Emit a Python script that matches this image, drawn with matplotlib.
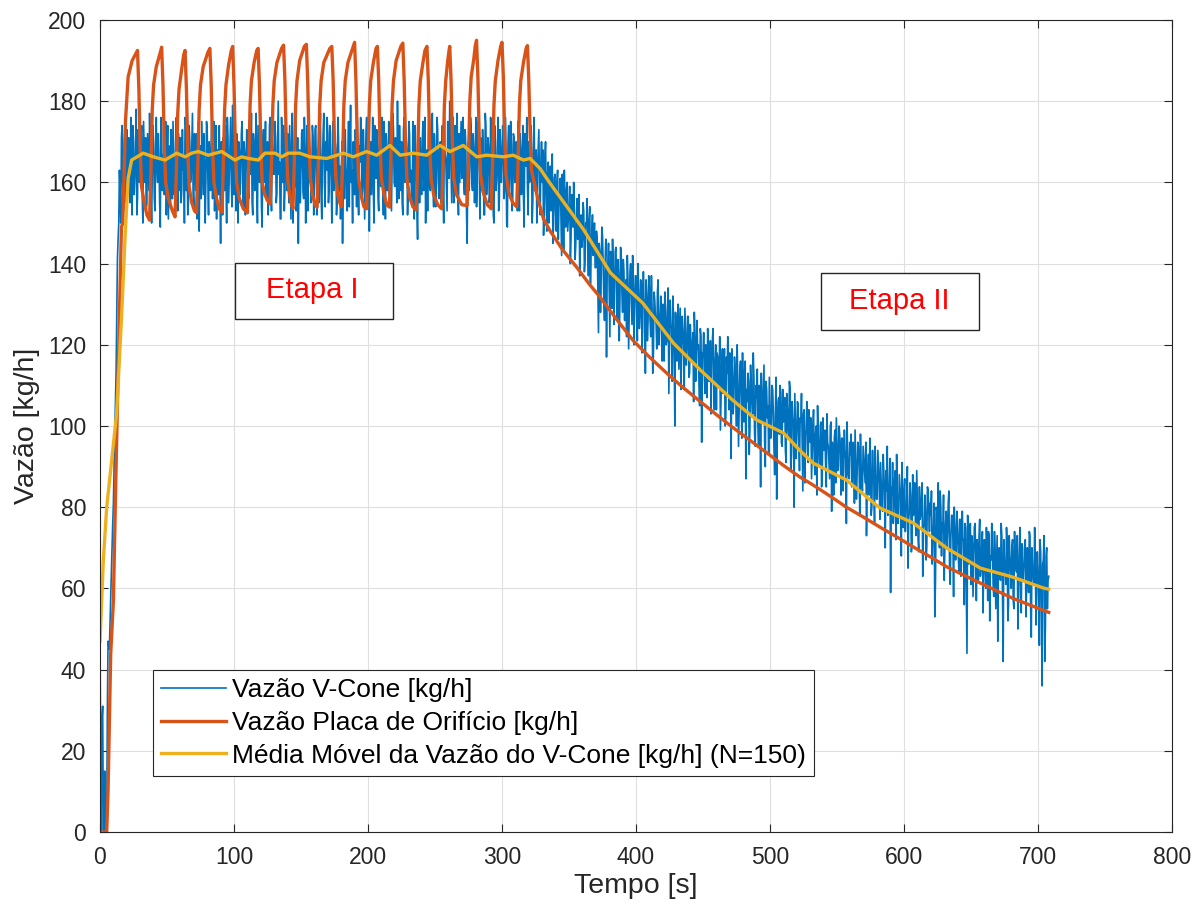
"""Vazao V-Cone vs placa de orificio, com media movel (N=150)."""
import matplotlib
matplotlib.use("Agg")
import matplotlib.pyplot as plt
import numpy as np

plt.rcParams["font.family"] = ["Liberation Sans", "DejaVu Sans"]

BLUE = "#0072BD"
ORANGE = "#D95319"
YELLOW = "#EDB120"
INK = "#262626"

# V-Cone flow read on whole seconds (t = 0 .. 708 s)
vcone_flow_a = [
    46, 0, 31, 0, 3, 0, 47, 45, 58, 70,
    81, 98, 113, 141, 150, 158, 171, 160, 168, 155,
    173, 158, 166, 176, 152, 170, 161, 178, 156, 169,
    162, 174, 150, 167, 171, 155, 165, 177, 158, 163,
    170, 153, 176, 160, 166, 149, 172, 162, 157, 175,
    164, 151, 169, 173, 156, 166, 160, 176, 153, 168,
    171, 158, 163, 150, 174, 165, 155, 170, 161, 177,
    154, 167, 172, 159, 148, 169, 175, 157, 164, 160,
    173, 152, 166, 170, 156, 175, 162, 151, 168, 174,
    145, 165, 171, 158, 163, 176, 155, 169, 160, 179,
    157, 166, 172, 150, 168, 161, 175, 154, 167, 163,
    171, 156, 162, 177, 152, 169, 165, 158, 174, 160,
    167, 149, 173, 163, 156, 170, 160, 176, 153, 168,
    162, 171, 157, 180, 165, 151, 169, 174, 158, 166,
    172, 155, 163, 170, 150, 167, 175, 159, 145, 168,
    164, 173, 156, 169, 161, 153, 176, 166, 158, 171,
    160, 174, 152, 167, 170, 157, 165, 177, 154, 163,
    172, 159, 166, 150, 175, 162, 168, 156, 171, 164,
    158, 145, 169, 173, 160, 166, 154, 179, 163, 170,
    157, 168, 175, 152, 165, 171, 159, 167, 162, 176,
    155, 148, 170, 164, 158, 174, 161, 169, 153, 172,
    166, 160, 175, 151, 168, 163, 157, 171, 165, 173,
    159, 167, 180, 156, 164, 170, 152, 176, 161, 168,
    158, 172, 163, 155, 169, 174, 160, 146, 166, 171,
    157, 175, 164, 150, 168, 172, 159, 165, 177, 154,
    167, 161, 173, 156, 170, 163, 158, 176, 166, 153,
    171, 180, 162, 168, 155, 174, 165, 159, 172, 167,
    161, 176, 157, 169, 145, 170, 164, 173, 158, 168,
    163, 154, 175, 166, 171, 159, 167, 152, 174, 162,
    169, 157, 173, 164, 150, 170, 161, 176, 155, 168,
    165, 172, 158, 167, 149, 174, 162, 169, 156, 171,
    160, 166, 175, 153, 168, 163, 157, 172, 164, 159,
    170, 161, 167, 155, 176, 162, 150, 168, 158, 165,
    160, 147, 166, 156, 162, 150, 164, 158, 145, 161,
    153, 160, 146, 157, 151, 162, 143, 155, 158, 148,
    154, 140, 157, 149, 153, 144, 156, 148, 137, 152,
    146, 153, 141, 149, 144, 151, 135, 147, 142, 150,
    139, 146, 123, 143, 136, 147, 131, 141, 117, 140,
    134, 143, 129, 139, 132, 144, 126, 137, 131, 142,
    128, 138, 133, 122, 136, 129, 140, 125, 134, 130,
    137, 121, 133, 127, 135, 124, 130, 113, 132, 126,
    134, 122, 129, 118, 131, 125, 133, 120, 127, 123,
    130, 116, 128, 121, 134, 119, 125, 111, 127, 100,
    123, 126, 114, 129, 117, 124, 109, 122, 119, 127,
    113, 121, 118, 106, 123, 115, 119, 110, 124, 96,
    117, 112, 120, 107, 118, 114, 103, 121, 110, 116,
    104, 117, 112, 99, 115, 108, 119, 102, 113, 109,
    118, 92, 112, 106, 114, 100, 110, 105, 116, 97,
    108, 113, 87, 106, 111, 99, 109, 103, 112, 95,
    107, 100, 110, 85, 104, 108, 96, 111, 102, 93,
    105, 99, 109, 94, 103, 82, 106, 98, 108, 95,
    101, 107, 91, 104, 97, 109, 93, 102, 80, 100,
    98, 105, 89, 101, 95, 103, 86, 99, 94, 104,
    96, 87, 100, 92, 98, 83, 97, 90, 101, 88,
    94, 99, 85, 96, 91, 100, 79, 93, 97, 86,
    95, 90, 98, 83, 97, 89, 94, 76, 92, 87,
    93, 85, 96, 81, 91, 88, 95, 78, 90, 84,
    92, 86, 73, 89, 83, 91, 80, 88, 76, 87,
    82, 90, 77, 86, 79, 88, 70, 84, 78, 85,
    59, 83, 76, 87, 72, 82, 78, 85, 68, 80,
    84, 74, 81, 65, 79, 83, 71, 78, 86, 73,
    80, 69, 77, 82, 63, 76, 79, 70, 84, 74,
    78, 66, 75, 53, 80, 72, 77, 84, 68, 74,
    62, 76, 70, 81, 65, 73, 78, 58, 75, 71,
    74, 64, 77, 68, 72, 56, 75, 44, 70, 73,
    61, 71, 66, 76, 57, 69, 73, 63, 70, 54,
    72, 60, 68, 74, 52, 67, 71, 58, 69, 64,
    47, 70, 62, 73, 42, 66, 61, 71, 56, 68,
    60, 72, 55, 67, 64, 50, 69, 58, 71, 62,
    66, 53, 70, 59, 73, 48, 64, 61, 68, 57,
    65, 46, 69, 36, 67, 42, 68, 55, 63,
]
# V-Cone flow read on the half seconds (t = 0.5 .. 707.5 s)
vcone_flow_b = [
    20, 28, 0, 15, 0, 30, 46, 52, 64, 76,
    90, 105, 128, 146, 163, 150, 174, 153, 172, 163,
    160, 171, 155, 165, 174, 157, 168, 152, 173, 160,
    170, 157, 175, 160, 153, 172, 158, 169, 150, 174,
    156, 168, 163, 172, 155, 176, 158, 167, 171, 152,
    174, 160, 154, 166, 175, 157, 170, 163, 172, 158,
    155, 173, 166, 176, 158, 152, 174, 160, 169, 157,
    172, 158, 151, 175, 163, 156, 166, 172, 150, 175,
    161, 170, 158, 177, 164, 153, 174, 168, 157, 161,
    170, 152, 165, 174, 150, 171, 162, 176, 154, 164,
    174, 153, 160, 170, 157, 172, 163, 170, 152, 173,
    159, 175, 168, 155, 172, 158, 177, 150, 167, 172,
    154, 170, 160, 175, 166, 152, 174, 158, 171, 162,
    175, 155, 168, 162, 151, 176, 160, 153, 172, 158,
    160, 174, 151, 177, 166, 159, 153, 171, 163, 155,
    172, 158, 176, 150, 174, 168, 160, 155, 174, 152,
    173, 162, 168, 155, 177, 151, 172, 160, 170, 176,
    155, 174, 161, 172, 158, 170, 152, 176, 158, 151,
    170, 160, 156, 164, 153, 175, 168, 160, 150, 162,
    173, 154, 160, 169, 176, 156, 173, 151, 172, 160,
    168, 163, 157, 176, 150, 166, 173, 156, 175, 159,
    176, 152, 161, 172, 158, 175, 166, 153, 177, 160,
    171, 155, 163, 174, 158, 155, 173, 160, 171, 152,
    175, 160, 157, 175, 151, 165, 154, 170, 155, 160,
    170, 158, 176, 162, 153, 177, 158, 170, 160, 172,
    154, 176, 160, 168, 155, 174, 150, 167, 159, 175,
    161, 170, 155, 176, 163, 158, 177, 152, 160, 175,
    170, 160, 173, 153, 165, 158, 176, 160, 172, 155,
    176, 160, 165, 151, 158, 173, 152, 177, 157, 171,
    155, 176, 160, 152, 174, 158, 167, 153, 173, 160,
    174, 156, 176, 150, 170, 157, 175, 153, 172, 160,
    170, 153, 161, 172, 157, 174, 149, 166, 176, 152,
    160, 174, 150, 171, 158, 168, 163, 173, 152, 170,
    168, 152, 170, 148, 165, 160, 153, 167, 150, 162,
    148, 163, 154, 161, 142, 157, 163, 149, 160, 151,
    159, 146, 155, 160, 141, 151, 146, 157, 150, 144,
    155, 138, 150, 156, 137, 154, 143, 152, 145, 139,
    148, 135, 145, 128, 149, 140, 126, 146, 138, 145,
    122, 140, 146, 125, 143, 136, 141, 121, 144, 133,
    141, 126, 136, 142, 119, 138, 133, 142, 120, 137,
    128, 140, 124, 136, 118, 138, 131, 136, 121, 137,
    126, 137, 113, 133, 127, 119, 136, 124, 132, 116,
    127, 133, 120, 129, 108, 131, 124, 132, 117, 128,
    116, 130, 121, 109, 127, 120, 129, 115, 127, 112,
    125, 116, 123, 128, 111, 126, 120, 105, 122, 118,
    123, 108, 119, 124, 111, 121, 116, 124, 104, 120,
    118, 110, 122, 107, 119, 113, 100, 117, 122, 104,
    112, 119, 103, 117, 109, 120, 95, 114, 108, 118,
    101, 116, 109, 113, 93, 115, 106, 118, 98, 110,
    114, 95, 108, 113, 101, 115, 90, 109, 105, 112,
    97, 110, 103, 88, 112, 100, 107, 110, 96, 109,
    104, 94, 108, 99, 111, 89, 106, 101, 108, 92,
    106, 96, 102, 108, 84, 104, 98, 106, 91, 101,
    102, 94, 104, 88, 100, 105, 93, 100, 85, 102,
    98, 90, 103, 95, 87, 101, 96, 83, 99, 102,
    89, 100, 93, 97, 84, 99, 92, 101, 88, 96,
    98, 88, 94, 99, 82, 96, 90, 98, 86, 95,
    89, 96, 84, 93, 97, 78, 94, 86, 95, 82,
    94, 86, 91, 81, 93, 84, 89, 95, 80, 92,
    85, 91, 80, 89, 93, 76, 88, 82, 91, 75,
    87, 80, 90, 77, 86, 69, 88, 80, 76, 89,
    72, 85, 78, 86, 74, 83, 67, 85, 79, 81,
    84, 73, 81, 62, 79, 86, 70, 80, 76, 83,
    70, 79, 74, 84, 61, 78, 72, 80, 67, 79,
    68, 77, 63, 79, 72, 76, 59, 78, 66, 76,
    73, 58, 75, 69, 72, 62, 77, 65, 74, 67,
    66, 75, 57, 73, 68, 76, 61, 74, 55, 73,
    68, 63, 76, 59, 72, 66, 75, 52, 73, 65,
    70, 57, 74, 65, 73, 61, 75, 54, 70, 66,
    72, 60, 67, 74, 55, 70, 63, 75, 51, 69,
    60, 72, 58, 66, 73, 50, 70, 62,
]

# orifice plate flow (s, kg/h)
orifice_time = [
    0, 5, 6, 8, 10, 11.7, 13.7, 16, 17, 19, 21, 24,
    28, 29, 30, 31, 33, 35, 37,
    38, 39, 40, 42, 45, 46, 47, 48, 49, 51, 54, 56,
    57, 58, 59, 61, 62.5, 63.5, 64.5, 65.5, 66.5, 68.5, 70.5, 72,
    73, 74, 75, 77, 80.5, 82, 83, 84, 85, 87, 89, 91,
    92, 93, 94, 96, 98, 99, 100, 101, 102, 104, 107, 110,
    111, 112, 113, 115, 117, 118, 119, 120, 121, 123, 125, 127,
    128, 129, 130, 132, 135.5, 137, 138, 139, 140, 141.5, 143, 144,
    145, 146, 147, 149, 152.5, 154, 155, 156, 157, 158.5, 160.5, 162,
    163, 164, 165, 167, 171.5, 173, 174, 175, 176, 177.5, 179, 180,
    181, 182, 183, 185, 188.5, 190, 191, 192, 193, 195, 197, 199,
    200, 201, 202, 204, 206, 207, 208, 209, 210, 212, 214, 216,
    217, 218, 219, 221, 224.5, 226, 227, 228, 229, 231, 233.5, 236,
    237, 238, 239, 241, 242.5, 244, 245, 246, 247, 249, 252, 255,
    256, 257, 258, 259.5, 260.5, 261, 262, 263, 264, 266, 270, 274,
    275, 276, 277, 279, 280, 281, 282, 283, 284, 286, 289, 292,
    293, 294, 295, 297, 299, 300, 301, 302, 303, 305, 308, 311,
    312, 313, 314, 316, 318, 319, 320, 321, 322, 324, 326, 328,
    331, 336, 345, 356, 365, 373, 385, 398, 410, 423, 435, 448,
    460, 472, 485, 498, 510, 522, 532, 545, 557, 570, 582, 595,
    607, 620, 632, 645, 657, 670, 681, 694, 708,
]
orifice_flow = [
    0, 0, 10, 44, 57, 85, 116, 149, 150, 175, 186, 190,
    192.5, 183, 168, 159, 155, 152, 150.7,
    163, 178, 184, 188.5, 192, 193.3, 184, 169, 160, 156, 153, 151.5,
    163, 177, 183, 188, 191.5, 192.5, 183, 168, 159, 155, 153, 152.5,
    164, 178, 184, 188.5, 192, 193, 184, 169, 160, 156, 153.5, 152.7,
    164, 178, 184, 189, 192.5, 193.5, 184, 169, 160, 156, 153.5, 152.5,
    164, 179, 185, 189.5, 192.5, 193, 184, 169, 160, 157, 155.5, 154.7,
    165, 179, 185, 189.5, 193, 193.8, 185, 170, 161, 157, 154.5, 153.5,
    165, 179, 185, 190, 193.5, 194, 185, 170, 161, 157, 154.5, 153.9,
    165, 179, 185, 189.5, 193, 193.5, 185, 170, 161, 157, 155, 154,
    165, 179, 185, 189.5, 193, 194.5, 185, 170, 161, 156.5, 154, 153.5,
    165, 179, 185, 189.5, 193, 193.5, 185, 170, 161, 157, 154.5, 153.9,
    165, 179, 185, 190, 193.5, 194.3, 185, 170, 161, 156.5, 154, 153.2,
    165, 179, 185, 189.5, 192.5, 193.5, 185, 170, 161, 157, 154.5, 153.5,
    165, 179, 185, 190, 192.5, 193.5, 185, 170, 161, 157, 154.5, 154.3,
    166, 180, 186, 190.5, 193.5, 195, 186, 171, 162, 157.5, 154.5, 153.5,
    165, 179, 185, 190, 193.5, 194.5, 186, 171, 162, 157.5, 155, 154,
    165, 179, 185, 189.5, 193, 193.7, 185, 172, 163, 160, 157, 154.5,
    151, 148, 143.5, 139, 135, 131.8, 126.5, 121, 117, 113, 109.5, 106,
    102.8, 99.7, 96.5, 93.3, 90.3, 87.5, 85.5, 82.7, 80, 77.5, 75.1, 72.6,
    70.2, 67.7, 65.3, 63.2, 61.3, 59.3, 57.6, 55.9, 54.1,
]

# moving average of the V-Cone flow, N=150 (s, kg/h)
mavg_time = [
    0, 2.5, 5, 8.7, 12.4, 16.2, 18.7, 21, 23.6, 32.3, 39.8, 48.5,
    57.2, 63.4, 68.4, 73.4, 80.8, 90.8, 100.7, 105.7, 110.7, 118.1, 123.1, 130.6,
    135.6, 140.5, 149, 156.7, 169.2, 181.6, 189, 199, 206.5, 216.4, 224, 233.8,
    243.8, 253.7, 261.2, 271.1, 281.1, 288.6, 301, 308.4, 316, 321, 328.4, 335.8,
    361, 381, 405, 428, 448, 472, 490, 510, 522, 532, 557, 582,
    607, 632, 657, 681, 704, 708,
]
mavg_flow = [
    47, 67, 80, 91.5, 103, 127.5, 146.5, 161, 165.5, 167.2, 166.3, 165.5,
    167.2, 166.3, 167.2, 167.6, 166.7, 167.6, 165.5, 166.3, 165.9, 165.5, 167.2, 167.2,
    166.3, 167.2, 167.2, 166.3, 165.9, 167.2, 166.3, 167.6, 166.7, 169.1, 166.7, 167.2,
    166.7, 169.1, 167.6, 169.1, 166.3, 166.7, 166.3, 166.7, 165.5, 165.9, 163.4, 159.8,
    148.3, 137.7, 130.3, 120.4, 113.8, 106.4, 101.5, 98.3, 94.1, 90.9, 86.7, 79.8,
    76.1, 69.9, 65, 62.8, 60.1, 59.8,
]

LABELS = [
    "Vazão V-Cone [kg/h]",
    "Vazão Placa de Orifício [kg/h]",
    "Média Móvel da Vazão do V-Cone [kg/h] (N=150)",
]

# merge the two readings into one time-ordered record
vc_t = np.concatenate([np.arange(len(vcone_flow_a)), np.arange(len(vcone_flow_b)) + 0.5])
vc_v = np.concatenate([vcone_flow_a, vcone_flow_b])
order = np.argsort(vc_t)
vc_t, vc_v = vc_t[order], vc_v[order]

fig = plt.figure(figsize=(12.04, 9.11), dpi=100)
ax = fig.add_axes([100 / 1204, 79 / 911, 1072 / 1204, 812 / 911])

ax.plot(vc_t, vc_v, color=BLUE, lw=1.2, label=LABELS[0])
ax.plot(orifice_time, orifice_flow, color=ORANGE, lw=2.4, label=LABELS[1])
ax.plot(mavg_time, mavg_flow, color=YELLOW, lw=2.4, label=LABELS[2])

ax.set_xlim(0, 800)
ax.set_ylim(0, 200)
ax.set_xticks(np.arange(0, 801, 100))
ax.set_yticks(np.arange(0, 201, 20))
ax.grid(True, color="#dfdfdf", lw=0.8)
ax.set_axisbelow(True)
ax.tick_params(direction="in", top=True, right=True, length=6, width=0.8,
               labelsize=16.5, colors=INK, pad=10)
for sp in ax.spines.values():
    sp.set_color(INK)
    sp.set_linewidth(0.8)
ax.set_xlabel("Tempo [s]", fontsize=20.5, color=INK, labelpad=3)
ax.set_ylabel("Vazão [kg/h]", fontsize=20.5, color=INK, labelpad=6)

frame = dict(facecolor="white", edgecolor=INK, lw=1.0, zorder=5)
ax.add_patch(plt.Rectangle((100.7, 126.3), 117.7, 13.9, **frame))
ax.text(158.6, 133.4, "Etapa I", color="red", fontsize=21, ha="center", va="center", zorder=6)
ax.add_patch(plt.Rectangle((537.8, 123.6), 118.5, 14.0, **frame))
ax.text(596.7, 130.8, "Etapa II", color="red", fontsize=21, ha="center", va="center", zorder=6)

leg = ax.legend(loc="lower left", bbox_to_anchor=(0.0494, 0.069), borderaxespad=0,
                fontsize=19, handlelength=2.45, handletextpad=0.23, labelspacing=0.33,
                borderpad=0.32, fancybox=False, framealpha=1, edgecolor=INK)
leg.get_frame().set_linewidth(0.8)

fig.savefig("out.png", dpi=100)
